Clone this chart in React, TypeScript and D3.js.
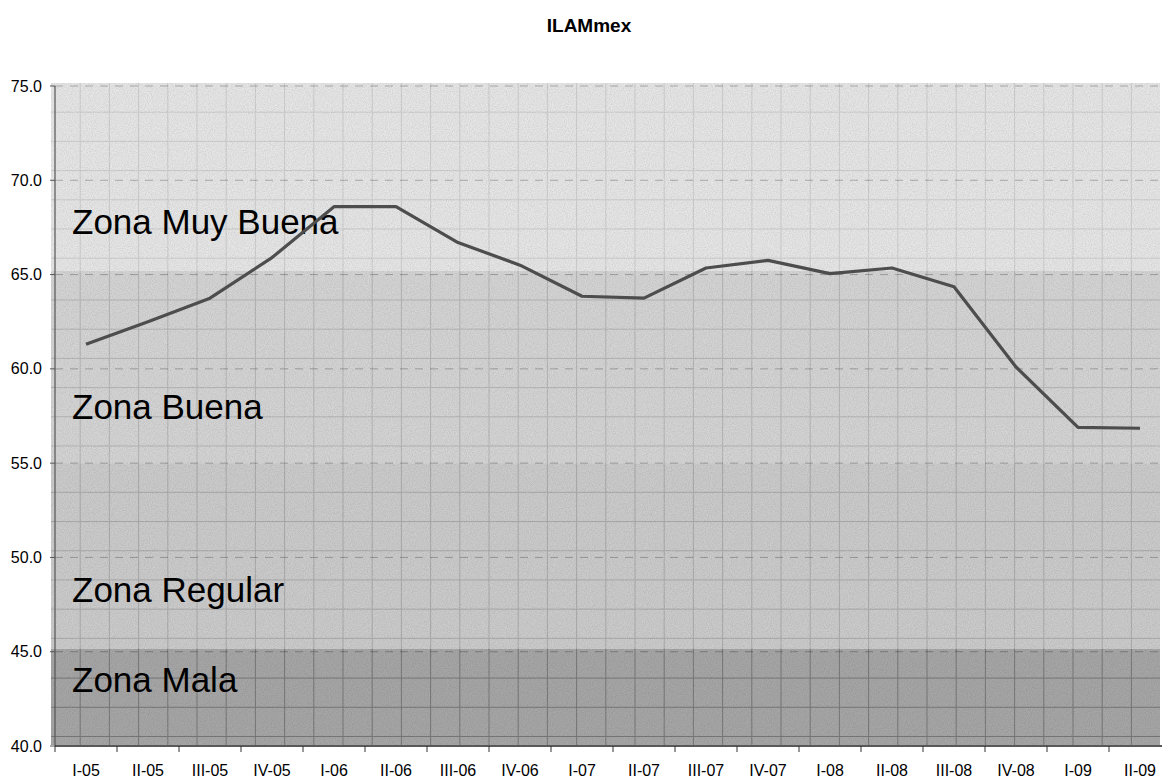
import React from "react";
import * as d3 from "d3";

const categories = [
  "I-05", "II-05", "III-05", "IV-05",
  "I-06", "II-06", "III-06", "IV-06",
  "I-07", "II-07", "III-07", "IV-07",
  "I-08", "II-08", "III-08", "IV-08",
  "I-09", "II-09",
];
const ilamValues = [
  61.3, 62.5, 63.75, 65.9,
  68.6, 68.6, 66.7, 65.5,
  63.85, 63.75, 65.35, 65.75,
  65.05, 65.35, 64.35, 60.1,
  56.9, 56.85,
];
const yTicks = [40, 45, 50, 55, 60, 65, 70, 75];
const zoneNames = ["Zona Muy Buena", "Zona Buena", "Zona Regular", "Zona Mala"];
const zoneTop = [75.16, 65.2, 55.0, 45.15];
const zoneBottom = [65.2, 55.0, 45.15, 40.05];

// layout / style (not data)
const W = 1162;
const H = 779;
const M = { left: 55, top: 86, bottom: 746 };
const BAND = 62;
const zoneFill = ["#e6e6e6", "#d4d4d4", "#cbcbcb", "#a6a6a6"];
const zoneGrid = ["#cdcdcd", "#b5b5b5", "#aaaaaa", "#787878"];
const labelBaseline = [234, 419, 602, 692];
const BG_LEFT = 51;
const BG_RIGHT = 1160;
const CELL = 29.2;

export default function App() {
  const x = d3
    .scaleBand<string>()
    .domain(categories)
    .range([M.left, M.left + BAND * categories.length])
    .paddingInner(0)
    .paddingOuter(0);
  const y = d3.scaleLinear().domain([40, 75]).range([M.bottom, M.top]);

  const line = d3
    .line<number>()
    .x((_, i) => (x(categories[i]) as number) + x.bandwidth() / 2)
    .y((d) => y(d));

  const vLines: number[] = [];
  for (let px = BG_LEFT + CELL; px < BG_RIGHT; px += CELL) vLines.push(px);

  const font = "Liberation Sans, Arial, Helvetica, sans-serif";

  return (
    <svg
      width={W}
      height={H}
      style={{ position: "absolute", left: 0, top: 0, display: "block", background: "#fff" }}
      fontFamily={font}
    >
      <defs>
        <filter id="noise" x="0" y="0" width="100%" height="100%">
          <feTurbulence type="fractalNoise" baseFrequency="0.95" numOctaves="2" seed="3" result="t" />
          <feColorMatrix
            in="t"
            type="matrix"
            values="0 0 0 0 0  0 0 0 0 0  0 0 0 0 0  0.16 0 0 0 -0.05"
          />
        </filter>
        <clipPath id="bgclip">
          <rect x={BG_LEFT} y={y(zoneTop[0])} width={BG_RIGHT - BG_LEFT} height={y(zoneBottom[3]) - y(zoneTop[0])} />
        </clipPath>
      </defs>

      {/* background zones */}
      <g clipPath="url(#bgclip)">
        {zoneNames.map((name, i) => {
          const top = y(zoneTop[i]);
          const bot = y(zoneBottom[i]);
          const hLines: number[] = [];
          for (let py = top + CELL; py < bot - 1; py += CELL) hLines.push(py);
          return (
            <g key={name}>
              <rect x={BG_LEFT} y={top} width={BG_RIGHT - BG_LEFT} height={bot - top} fill={zoneFill[i]} />
              {hLines.map((py, j) => (
                <line key={"h" + j} x1={BG_LEFT} x2={BG_RIGHT} y1={py} y2={py} stroke={zoneGrid[i]} strokeWidth={1} />
              ))}
              {vLines.map((px, j) => (
                <line key={"v" + j} x1={px} x2={px} y1={top} y2={bot} stroke={zoneGrid[i]} strokeWidth={1} />
              ))}
            </g>
          );
        })}
        <rect
          x={BG_LEFT}
          y={y(zoneTop[0])}
          width={BG_RIGHT - BG_LEFT}
          height={y(zoneBottom[3]) - y(zoneTop[0])}
          filter="url(#noise)"
          fill="#000"
        />
      </g>

      {/* dashed major gridlines */}
      {yTicks.filter((t) => t > 40).map((t) => (
        <line
          key={"g" + t}
          x1={M.left}
          x2={W}
          y1={y(t)}
          y2={y(t)}
          stroke="#000"
          strokeOpacity={0.25}
          strokeWidth={1}
          strokeDasharray="8,7"
        />
      ))}

      {/* zone labels */}
      {zoneNames.map((name, i) => (
        <text key={"l" + name} x={72} y={labelBaseline[i]} fontSize={35} fill="#000">
          {name}
        </text>
      ))}

      {/* series */}
      <path d={line(ilamValues) || ""} fill="none" stroke="#4d4d4d" strokeWidth={3.2} strokeLinejoin="round" />

      {/* y axis */}
      <line x1={M.left} x2={M.left} y1={M.top} y2={M.bottom} stroke="#555" strokeWidth={1.2} />
      {yTicks.map((t) => (
        <g key={"yt" + t}>
          <line x1={M.left - 5} x2={M.left} y1={y(t)} y2={y(t)} stroke="#555" strokeWidth={1} />
          <text x={42} y={y(t) + 5.5} textAnchor="end" fontSize={16} fill="#000">
            {d3.format(".1f")(t)}
          </text>
        </g>
      ))}

      {/* x axis */}
      <line x1={M.left} x2={W} y1={M.bottom} y2={M.bottom} stroke="#222" strokeWidth={1.5} />
      {categories.map((c) => (
        <g key={"xt" + c}>
          <line
            x1={x(c) as number}
            x2={x(c) as number}
            y1={M.bottom}
            y2={M.bottom + 6}
            stroke="#333"
            strokeWidth={1}
          />
          <text
            x={(x(c) as number) + x.bandwidth() / 2}
            y={776}
            textAnchor="middle"
            fontSize={16}
            fill="#000"
          >
            {c}
          </text>
        </g>
      ))}

      {/* title */}
      <text x={589} y={32} textAnchor="middle" fontSize={19} fontWeight="bold" fill="#000">
        ILAMmex
      </text>
    </svg>
  );
}
